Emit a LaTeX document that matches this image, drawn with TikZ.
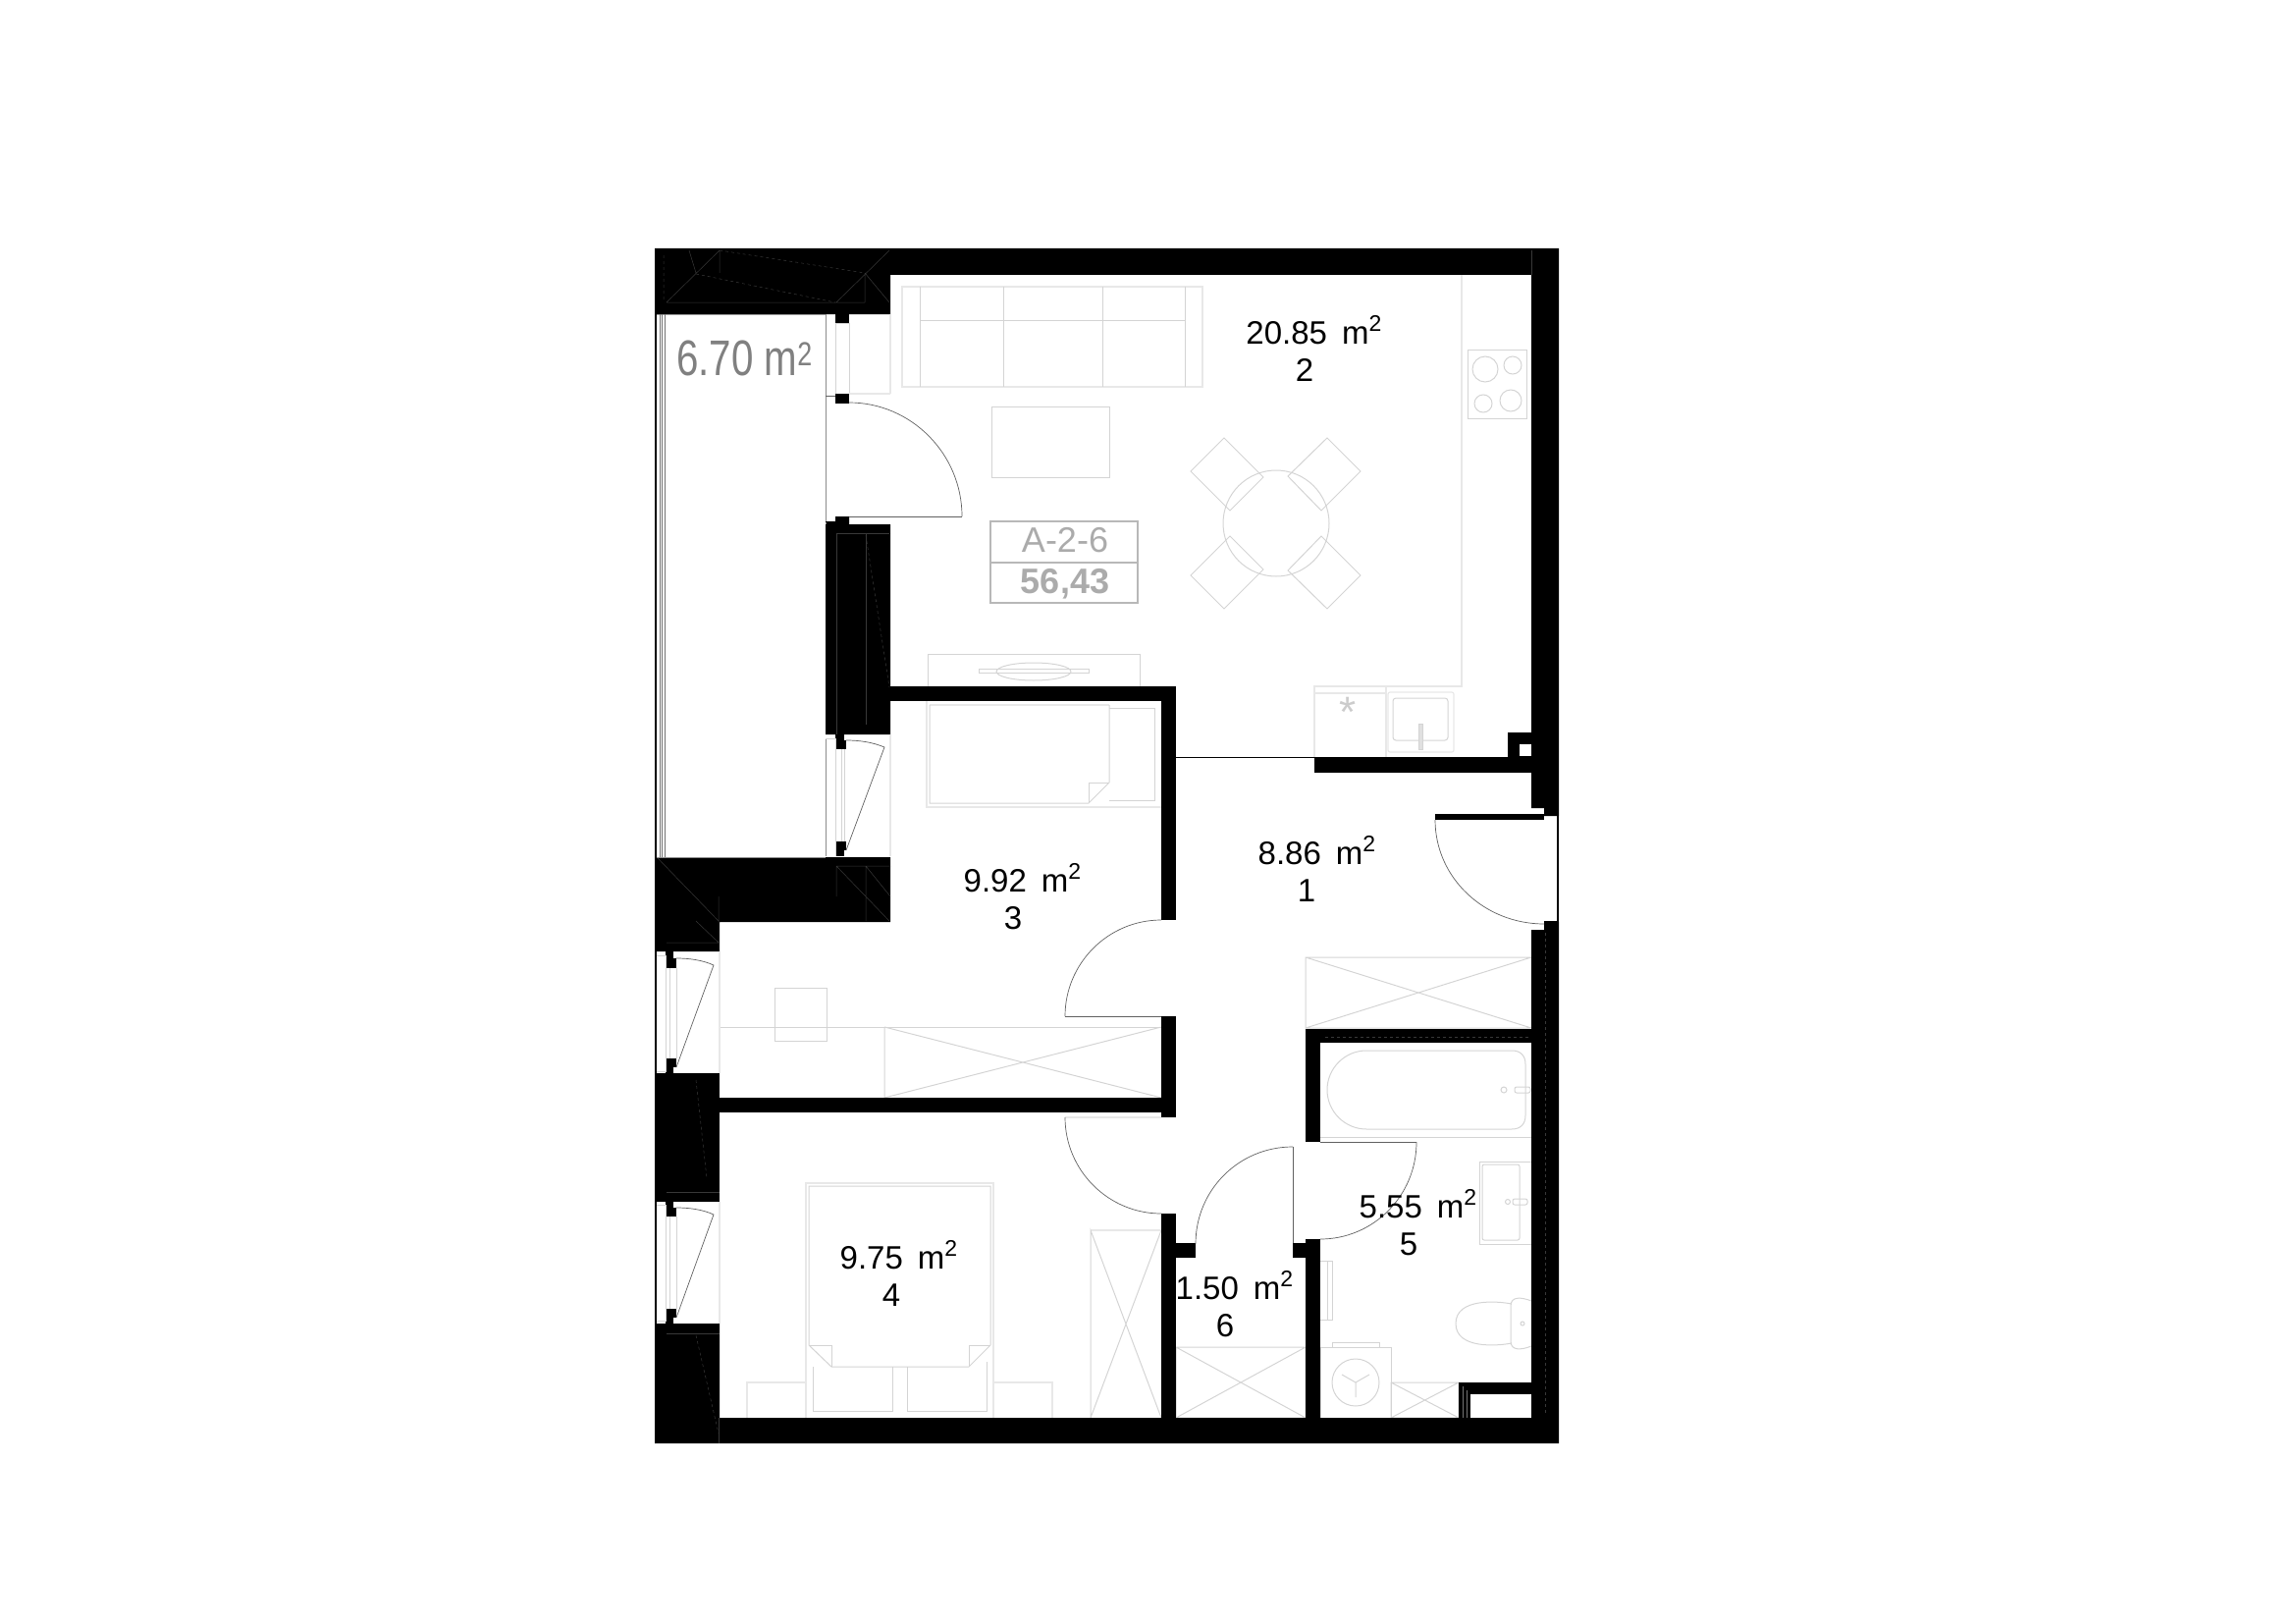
\documentclass[tikz,border=0pt]{standalone}
\usepackage{fontspec}
\setmainfont{Liberation Sans}
\tikzset{every picture/.style={line width=0.75pt}}
\tikzset{
  wall/.style={fill=black,draw=none},
  wallmark/.style={draw=black!78,line width=0.5pt},
  furn/.style={draw=black!17,line width=1pt},
  furnlt/.style={draw=black!9,line width=1.2pt},
  door/.style={draw=black!62,line width=0.7pt},
  edge/.style={draw=black!45,line width=0.8pt},
  roomlabel/.style={align=center,inner sep=0pt,font=\fontsize{33}{38}\selectfont},
  planlabel/.style={inner sep=0pt,text=black!33,font=\fontsize{36}{36}\selectfont},
}
\newcommand{\sqmark}{\hspace{15pt}m\rlap{\raisebox{13pt}{\fontsize{23}{23}\selectfont 2}}}

\begin{document}
\begin{tikzpicture}[x=1pt,y=1pt,yscale=-1,xscale=1]
    \useasboundingbox (0,0) rectangle (2339,1653);
    % furniture, living room
    \draw[furnlt] (919,292) rectangle (1225,394);
    \draw[furn] (937,292) -- (937,394) (1022,292) -- (1022,394) (1123,292) -- (1123,394) (1207,292) -- (1207,394) (937,326) -- (1207,326);
    \draw[furn] (1010,414) rectangle (1130,486);
    \draw[furn] (1300,533) circle (54);
    \draw[furn] (1213,480) -- (1247,446) -- (1287,486) -- (1253,520) -- cycle;
    \draw[furn] (1312,485) -- (1352,446) -- (1386,480) -- (1346,520) -- cycle;
    \draw[furn] (1213,586) -- (1247,620) -- (1287,580) -- (1253,546) -- cycle;
    \draw[furn] (1312,581) -- (1352,620) -- (1386,586) -- (1346,546) -- cycle;
    \draw[furn] (945,699) -- (945,666) -- (1161,666) -- (1161,699);
    \draw[furn] (997,681) rectangle (1109,685);
    \draw[furn] (1053,684) ellipse [x radius=38,y radius=9];
    % kitchen
    \draw[furnlt] (1489,280) -- (1489,699) -- (1339,699) -- (1339,771);
    \draw[furnlt] (1339,706) -- (1412,706) (1412,699) -- (1412,771);
    \draw[furn] (1495,356) rectangle (1555,426);
    \draw[furn] (1513,376) circle (13) (1541,372) circle (9) (1511,411) circle (9) (1539,408) circle (11);
    \draw[furnlt,rounded corners=2pt] (1414,705) rectangle (1481,766);
    \draw[furn,rounded corners=3pt] (1419,711) rectangle (1475,754);
    \draw[furn,fill=black!12] (1445,737) rectangle (1449,763);
    \draw (1373,725) node (fridge) [inner sep=0pt,text=black!20,font=\fontsize{44}{44}\selectfont] {*};
    % room 3
    \draw[furnlt] (944,714) -- (944,822) -- (1184,822);
    \draw[furn] (1130,721) -- (1176,721) -- (1176,815) -- (1130,815);
    \draw[furnlt] (947,718) -- (1130,718);
    \draw[furn] (947,718) -- (947,818) -- (1109,818) -- (1130,797) -- (1130,718);
    \draw[furn] (1109,818) -- (1109,797) -- (1130,797);
    \draw[furn] (789,1006) rectangle (842,1060);
    \draw[furn] (733,1046) -- (1183,1046);
    \draw[furn] (901,1046) -- (901,1118) (901,1046) -- (1183,1118) (901,1118) -- (1183,1046);
    % room 4
    \draw[furnlt] (821,1444) -- (821,1205) -- (1012,1205) -- (1012,1444);
    \draw[furn] (824,1370) -- (824,1208) -- (1009,1208) -- (1009,1370) -- (987,1392) -- (847,1392) -- cycle;
    \draw[furn] (824,1370) -- (847,1370) -- (847,1392) (1009,1370) -- (987,1370) -- (987,1392);
    \draw[furn] (828,1392) -- (828,1437) -- (909,1437) -- (909,1392) (924,1392) -- (924,1437) -- (1005,1437) -- (1005,1387);
    \draw[furnlt] (821,1408) -- (761,1408) -- (761,1444) (1012,1408) -- (1072,1408) -- (1072,1444);
    \draw[furnlt] (1111,1253) -- (1183,1253);
    \draw[furn] (1111,1444) -- (1111,1253) -- (1183,1444) (1111,1444) -- (1183,1253);
    % hall and closet
    \draw[furn] (1330,975) rectangle (1560,1047) (1330,975) -- (1560,1047) (1330,1047) -- (1560,975);
    \draw[furn] (1198,1372) rectangle (1330,1444) (1198,1372) -- (1330,1444) (1198,1444) -- (1330,1372);
    % bathroom
    \draw[furn] (1392,1070) -- (1540,1070) .. controls (1549,1070) and (1554,1075) .. (1554,1084) -- (1554,1136) .. controls (1554,1145) and (1549,1150) .. (1540,1150) -- (1392,1150) .. controls (1370,1150) and (1352,1132) .. (1352,1110) .. controls (1352,1088) and (1370,1070) .. (1392,1070) -- cycle;
    \draw[furn] (1532,1110) circle (3);
    \draw[furn,rounded corners=2pt] (1543,1107) rectangle (1559,1113);
    \draw[furn] (1345,1158) -- (1560,1158);
    \draw[furn] (1560,1183) -- (1507,1183) -- (1507,1267) -- (1560,1267);
    \draw[furn,rounded corners=2pt] (1510,1186) rectangle (1548,1263);
    \draw[furn] (1536,1224) circle (2.5);
    \draw[furn,rounded corners=2pt] (1541,1221) rectangle (1556,1227);
    \draw[furn] (1345,1284) -- (1357,1284) -- (1357,1344) -- (1345,1344) (1352,1284) -- (1352,1344);
    \draw[furn] (1540,1328) .. controls (1525,1325) and (1483,1322) .. (1483,1348) .. controls (1483,1374) and (1525,1371) .. (1540,1368);
    \draw[furn] (1560,1325) .. controls (1550,1321) and (1539,1320) .. (1539,1330) -- (1539,1366) .. controls (1539,1376) and (1550,1375) .. (1560,1371);
    \draw[furn] (1551,1348) circle (2);
    \draw[furn] (1345,1372) rectangle (1417,1444);
    \draw[furn] (1357,1372) -- (1357,1367) -- (1405,1367) -- (1405,1372);
    \draw[furn] (1381,1408) circle (24);
    \draw[furn] (1381,1408) -- (1381,1423) (1381,1408) -- (1367,1400) (1381,1408) -- (1395,1400);
    \draw[furn] (1417,1408) rectangle (1486,1444) (1417,1408) -- (1486,1444) (1417,1444) -- (1486,1408);
    % walls
    \fill[wall] (667,253) -- (1588,253) -- (1588,831) -- (1573,831) -- (1573,823) -- (1560,823) -- (1560,280) -- (907,280) -- (907,320) -- (667,320) -- cycle;
    \fill[wall] (1573,939) -- (1588,939) -- (1588,1470) -- (667,1470) -- (667,1348) -- (733,1348) -- (733,1444) -- (1486,1444) -- (1486,1408) -- (1560,1408) -- (1560,947) -- (1573,947) -- cycle;
    \fill[wall] (841,534) -- (851,534) -- (851,526) -- (865,526) -- (865,534) -- (907,534) -- (907,748) -- (841,748) -- cycle;
    \fill[wall] (667,873) -- (907,873) -- (907,939) -- (733,939) -- (733,969) -- (667,969) -- cycle;
    \fill[wall] (667,1093) -- (733,1093) -- (733,1224) -- (667,1224) -- cycle;
    \fill[wall] (667,320) rectangle (669,1348);
    \fill[wall] (841,531) rectangle (851,534);
    \fill[wall] (907,699) rectangle (1198,714);
    \fill[wall] (1183,699) rectangle (1198,937);
    \fill[wall] (1183,1035) rectangle (1198,1138);
    \fill[wall] (733,1118) rectangle (1184,1133);
    \fill[wall] (1183,1236) rectangle (1198,1444);
    \fill[wall] (1198,1266) rectangle (1218,1281);
    \fill[wall] (1317,1266) rectangle (1330,1281);
    \fill[wall] (1330,1262) rectangle (1345,1444);
    \fill[wall] (1330,1048) rectangle (1560,1062);
    \fill[wall] (1330,1048) rectangle (1345,1163);
    \fill[wall] (1339,771) rectangle (1560,787);
    \fill[wall] (1536,746) -- (1560,746) -- (1560,771) -- (1536,771) -- cycle;
    \fill[white] (1548,758) rectangle (1560,770);
    \fill[white] (1498,1420) rectangle (1560,1444);
    \fill[wall] (1486,1408) rectangle (1498,1444);
    % traces inside the walls
    \draw[wallmark,dashed] (676,260) -- (676,308) (733,255) -- (881,278) (709,279) -- (851,308);
    \draw[wallmark] (679,308) -- (733,255) -- (733,278) (702,255) -- (709,278) (679,308) -- (881,308) (852,308) -- (906,255) (881,278) -- (906,308) (881,278) -- (881,308);
    \draw[wallmark] (852,543) -- (852,748) (882,543) -- (882,738) (852,543) -- (906,543);
    \draw[wallmark,dashed] (882,545) -- (906,700);
    \draw[wallmark] (669,873) -- (732,938) (732,913) -- (732,967) (709,938) -- (732,960) (679,960) -- (732,960);
    \draw[wallmark] (852,882) -- (906,938) (852,882) -- (852,913) (882,882) -- (882,938) (852,882) -- (907,882) (882,882) -- (907,913);
    \draw[wallmark,dashed] (709,1100) -- (720,1200) (709,1360) -- (732,1460);
    \draw[wallmark] (679,1214) -- (733,1214) (679,1358) -- (733,1358);
    \draw[wallmark] (732,1444) -- (732,1470) (1560,255) -- (1560,280);
    \draw[wallmark,dashed] (1574,950) -- (1574,1440) (1350,1056) -- (1558,1056);
    \draw[draw=black!55,line width=0.6pt] (1490,1412) -- (1490,1444) (1494,1416) -- (1494,1444);
    % balcony
    \draw[draw=black!40,line width=0.7pt] (669,320) -- (841,320);
    \draw[draw=black!55,line width=1pt] (672,320) -- (672,873) (674.5,320) -- (674.5,873) (677,320) -- (677,873);
    \draw[edge] (669,873) -- (841,873);
    \draw[edge] (841,320) -- (841,531);
    \draw[edge] (841,532) -- (841,534) (841,752) -- (841,872);
    % balcony door and windows
    \fill[wall] (851,320) rectangle (865,329);
    \fill[wall] (851,401) rectangle (865,411);
    \draw[furn] (851,329) -- (851,401) (865,329) -- (865,401) (851,329) -- (865,329);
    \draw[furnlt] (865,401) -- (907,401) (907,320) -- (907,401);
    \draw[door] (841,403) -- (851,403);
    \draw[door] (865,526) -- (980,526);
    \draw[door] (865,410) .. controls (928,410) and (980,462) .. (980,526);
    % window of room 3, upper
    \fill[wall] (851,748) rectangle (860,754);
    \fill[wall] (851,754) rectangle (862,763);
    \fill[wall] (851,857) rectangle (862,866);
    \fill[wall] (851,866) rectangle (860,872);
    \draw[furn] (841,752) -- (851,752) (851,752) -- (851,872) (857,763) -- (857,857) (860,763) -- (860,857);
    \draw[door] (862,754) .. controls (876,754) and (889,756) .. (901,761) -- (862,866);
    \draw[furnlt] (907,748) -- (907,872);
    % window of room 3, lower
    \fill[wall] (678,969) rectangle (686,976);
    \fill[wall] (678,976) rectangle (689,986);
    \fill[wall] (678,1078) rectangle (689,1087);
    \fill[wall] (678,1087) rectangle (686,1093);
    \draw[furn] (669,973) -- (678,973) -- (678,1091) -- (669,1091) (682,986) -- (682,1078) (689,986) -- (689,1078);
    \draw[door] (689,976) .. controls (703,976) and (716,978) .. (727,983) -- (689,1087);
    \draw[furnlt] (733,969) -- (733,1093);
    % window of room 4
    \fill[wall] (678,1224) rectangle (686,1230);
    \fill[wall] (678,1230) rectangle (689,1239);
    \fill[wall] (678,1333) rectangle (689,1342);
    \fill[wall] (678,1342) rectangle (686,1348);
    \draw[furn] (669,1227) -- (678,1227) -- (678,1345) -- (669,1345) (682,1239) -- (682,1333) (689,1239) -- (689,1333);
    \draw[door] (689,1230) .. controls (703,1230) and (716,1232) .. (727,1237) -- (689,1342);
    \draw[furnlt] (733,1224) -- (733,1348);
    % inner doors
    \draw[door] (1085,1035) -- (1183,1035);
    \draw[door] (1183,937) .. controls (1129,937) and (1085,981) .. (1085,1035);
    \draw[furnlt] (1085,1138) -- (1183,1138);
    \draw[door] (1085,1138) .. controls (1085,1192) and (1129,1236) .. (1183,1236);
    \draw[door] (1317,1168) -- (1317,1266);
    \draw[door] (1218,1267) .. controls (1218,1212) and (1262,1168) .. (1317,1168);
    \draw[door] (1345,1163) -- (1443,1163);
    \draw[door] (1345,1262) .. controls (1399,1262) and (1443,1218) .. (1443,1163);
    \draw[draw=black,line width=0.9pt] (1198,771) -- (1339,771);
    % entrance door
    \fill[wall] (1462,829) rectangle (1573,835);
    \draw[door] (1462,835) .. controls (1462,894) and (1512,941) .. (1573,941);
    \draw[draw=black,line width=1.2pt] (1587,831) -- (1587,939) (1573,939) -- (1588,939);
    % balcony area and plan tag
    \draw (689,382) node (balconyarea) [anchor=base west,inner sep=0pt,xscale=0.79,text=black!50,font=\fontsize{51}{51}\selectfont] {6.70 m\raisebox{10pt}{\fontsize{34}{34}\selectfont 2}};
    \draw[draw=black!28,line width=1.2pt] (1009,531) rectangle (1159,614) (1009,573) -- (1159,573);
    \draw (1085,550) node (flatcode) [planlabel] {A-2-6};
    \draw (1085,595) node (flatarea) [planlabel,font=\fontsize{36}{36}\selectfont\bfseries] {56,43};
    % room areas
    \draw (1332,355) node (roomtwo) [roomlabel] {20.85\sqmark\\2\kern6pt};
    \draw (1335,885) node (roomone) [roomlabel] {8.86\sqmark\\1\kern8pt};
    \draw (1035,913) node (roomthree) [roomlabel] {9.92\sqmark\\3\kern6pt};
    \draw (909,1297) node (roomfour) [roomlabel] {9.75\sqmark\\4\kern2pt};
    \draw (1438,1245) node (roomfive) [roomlabel] {5.55\sqmark\\5\kern6pt};
    \draw (1251,1328) node (roomsix) [roomlabel] {1.50\sqmark\\6\kern6pt};
\end{tikzpicture}
\end{document}
